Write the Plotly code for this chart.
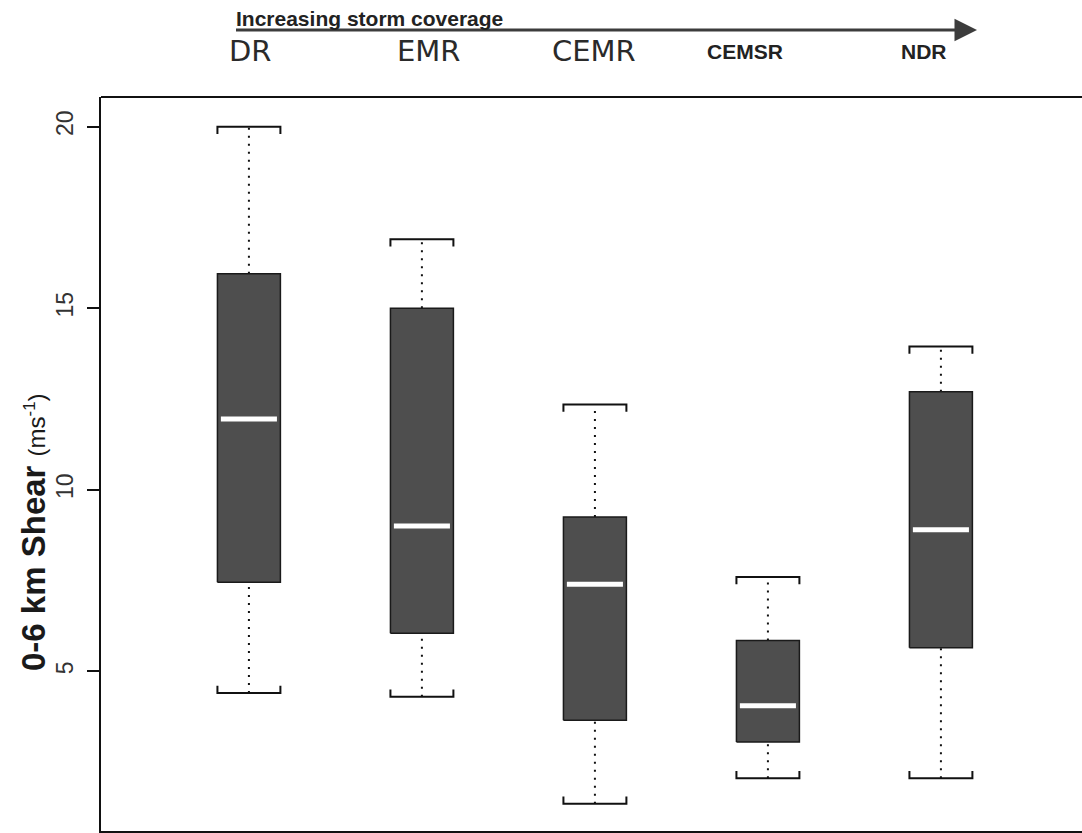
import plotly.graph_objects as go

# Storm regimes, ordered by increasing storm coverage
regimes = ["DR", "EMR", "CEMR", "CEMSR", "NDR"]

# 0-6 km shear summary statistics (m s-1)
whisker_low = [4.4, 4.3, 1.35, 2.05, 2.05]
q1 = [7.45, 6.05, 3.65, 3.05, 5.65]
median = [11.95, 9.0, 7.4, 4.05, 8.9]
q3 = [15.95, 15.0, 9.25, 5.85, 12.7]
whisker_high = [20.0, 16.9, 12.35, 7.6, 13.95]

y_ticks = [5, 10, 15, 20]

# figure geometry (pixels)
W, H = 1082, 833
ML, MR, MT, MB = 101, 0, 97, 2
PW, PH = W - ML - MR, H - MT - MB

HW = 0.182      # half box width in category units
CAP = 0.2       # bracket end length in y units


def px_x(p):
    return (p - ML) / PW


def px_y(p):
    return (H - MB - p) / PH


xs = list(range(len(regimes)))
fig = go.Figure()

# dotted whiskers
wx, wy = [], []
for i in xs:
    wx += [i, i, None, i, i, None]
    wy += [q3[i], whisker_high[i], None, whisker_low[i], q1[i], None]
fig.add_trace(go.Scatter(x=wx, y=wy, mode="lines",
                         line=dict(color="#111111", width=2, dash="2px,6px"),
                         hoverinfo="skip", showlegend=False))

# bracket-shaped whisker caps
cx, cy = [], []
for i in xs:
    cx += [i - HW, i - HW, i + HW, i + HW, None]
    cy += [whisker_high[i] - CAP, whisker_high[i], whisker_high[i], whisker_high[i] - CAP, None]
    cx += [i - HW, i - HW, i + HW, i + HW, None]
    cy += [whisker_low[i] + CAP, whisker_low[i], whisker_low[i], whisker_low[i] + CAP, None]
fig.add_trace(go.Scatter(x=cx, y=cy, mode="lines",
                         line=dict(color="#111111", width=2),
                         hoverinfo="skip", showlegend=False))

# interquartile boxes
for i in xs:
    fig.add_trace(go.Scatter(
        x=[i - HW, i + HW, i + HW, i - HW, i - HW],
        y=[q1[i], q1[i], q3[i], q3[i], q1[i]],
        mode="lines", fill="toself", fillcolor="#4e4e4e",
        line=dict(color="#1a1a1a", width=1.5),
        name=regimes[i], showlegend=False))

# white median bars
mx, my = [], []
for i in xs:
    mx += [i - HW + 0.02, i + HW - 0.02, None]
    my += [median[i], median[i], None]
fig.add_trace(go.Scatter(x=mx, y=my, mode="lines",
                         line=dict(color="white", width=5),
                         hoverinfo="skip", showlegend=False))

annotations = [
    # y-axis title
    dict(x=px_x(33), y=px_y(532), xref="paper", yref="paper",
         text="<b>0-6 km Shear</b> <span style='font-size:24px'>(ms<sup>-1</sup>)</span>",
         textangle=-90, showarrow=False, xanchor="center", yanchor="middle",
         font=dict(family="Liberation Sans, Arial", size=33, color="#1a1a1a")),
    # coverage arrow
    dict(x=px_x(977), y=px_y(30), xref="paper", yref="paper", text=" ",
         showarrow=True, ax=-(977 - 233), ay=0, axref="pixel", ayref="pixel",
         arrowhead=2, arrowsize=1.5, arrowwidth=3, arrowcolor="#3c3c3c",
         standoff=0, startstandoff=0),
    dict(x=px_x(234), y=px_y(32), xref="paper", yref="paper",
         text="<b>Increasing storm coverage</b>", showarrow=False,
         xanchor="left", yanchor="bottom",
         font=dict(family="Liberation Sans, Arial", size=21, color="#222222")),
]

label_px = [250, 429, 594, 745, 924]
for i, name in enumerate(regimes):
    bold = name in ("CEMSR", "NDR")
    if bold:
        txt = f"<b>{name}</b>"
        fnt = dict(family="Liberation Sans, Arial", size=21, color="#222222")
    else:
        txt = name
        fnt = dict(family="DejaVu Sans, Liberation Sans", size=29, color="#2a2a2a")
    annotations.append(dict(
        x=px_x(label_px[i]), y=px_y(51), xref="paper", yref="paper",
        text=txt, showarrow=False, xanchor="center", yanchor="middle", font=fnt))

fig.update_layout(
    width=W, height=H,
    margin=dict(l=ML, r=MR, t=MT, b=MB),
    paper_bgcolor="white", plot_bgcolor="white",
    showlegend=False,
    annotations=annotations,
    shapes=[dict(type="line", xref="paper", yref="paper", x0=0, x1=1, y0=1, y1=1,
                 line=dict(color="#111111", width=2))],
    xaxis=dict(range=[-0.855, -0.855 + PW / 173.0], showticklabels=False, ticks="",
               showgrid=False, zeroline=False, showline=True,
               linecolor="#111111", linewidth=2),
    yaxis=dict(range=[0.60, 20.82], tickvals=y_ticks, ticks="outside", ticklen=12,
               tickwidth=2, tickcolor="#111111", tickangle=-90, ticklabelstandoff=5,
               tickfont=dict(family="Liberation Sans, Arial", size=23, color="#333333"),
               showgrid=False, zeroline=False, showline=True,
               linecolor="#111111", linewidth=2),
)

fig.write_html("out.html")
